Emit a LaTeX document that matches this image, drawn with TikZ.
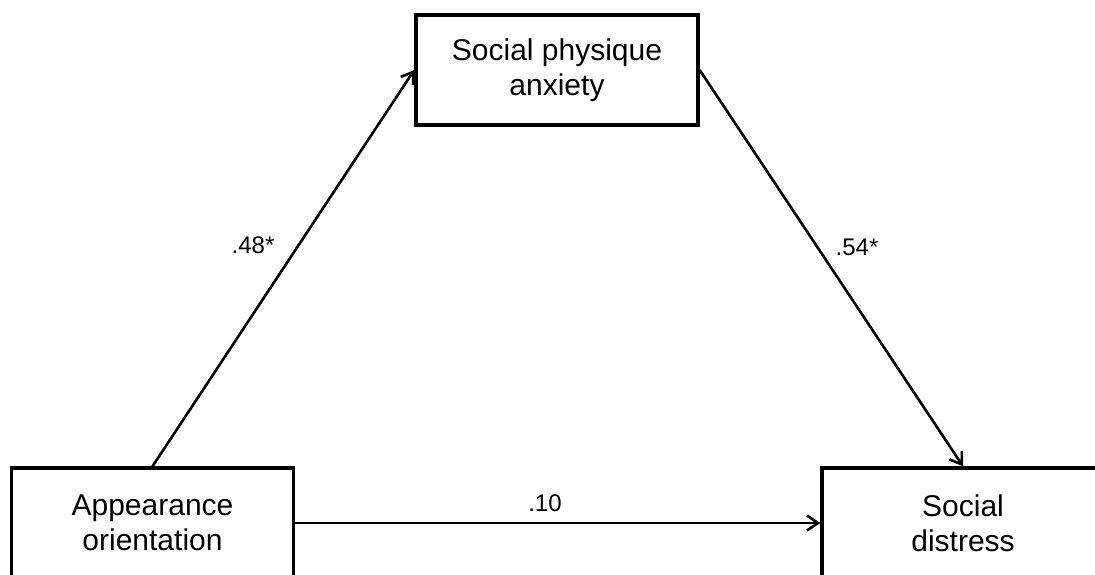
\documentclass[tikz,border=0pt]{standalone}
\usepackage{fontspec}
\setmainfont{Liberation Sans}
\usetikzlibrary{arrows.meta}
\begin{document}
\begin{tikzpicture}[x=1pt,y=-1pt,
  box/.style={draw, line width=3.4pt, minimum width=282pt, minimum height=110pt, align=center, inner sep=0pt, font=\fontsize{30}{35}\selectfont},
  conn/.style={line width=2.6pt, -{Straight Barb[length=11pt,width=15pt,line width=2.6pt]}},
  lbl/.style={font=\fontsize{24}{28}\selectfont, inner sep=0pt}]
\useasboundingbox (0,0) rectangle (1095,574);
\clip (0,0) rectangle (1095,574);
\fill[white] (0,0) rectangle (1095,574);
\node[box] (spa) at (557,70) {Social physique\\anxiety};
\node[box] (ao) at (152.5,523) {Appearance\\orientation};
\node[box] (sd) at (963,523) {Social\\distress};
\draw[conn] (ao.north) -- (spa.west);
\draw[conn] (spa.east) -- (sd.north);
\draw[conn] (ao.east) -- (sd.west);
\node[lbl] (l1) at (253,245) {.48*};
\node[lbl] (l2) at (857,247) {.54*};
\node[lbl] (l3) at (545,503) {.10};
\end{tikzpicture}
\end{document}
